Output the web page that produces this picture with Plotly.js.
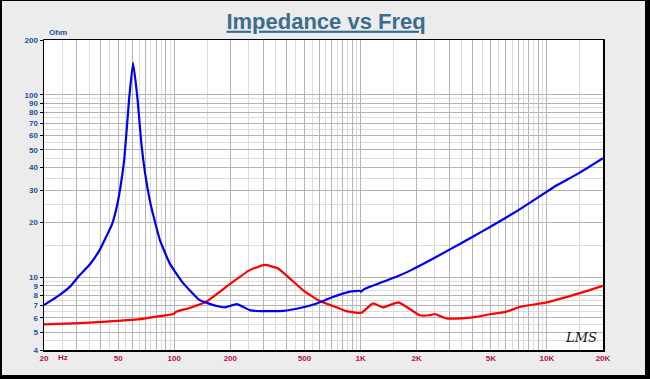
<!DOCTYPE html>
<html>
<head>
<meta charset="utf-8">
<script src="https://cdn.plot.ly/plotly-3.0.1.min.js"></script>
<style>
html,body{margin:0;padding:0;background:#000;}
#wrap{width:650px;height:379px;box-sizing:border-box;border-style:solid;border-color:#000;border-width:1px 5px 4px 2px;background:#ececec;}
</style>
</head>
<body>
<div id="wrap"><div id="plot"></div></div>
<script>
// ---- data ----
const blueFreq = [20, 22, 24.4, 27.6, 31.1, 35.3, 39.9, 43, 46.4, 49, 51.5, 54, 57.2, 60.1, 63.6, 66.5, 69.8, 74.2, 78, 83.8, 94.7, 111.7, 137, 169, 187, 217, 254, 289, 384, 474, 582, 716, 877, 988, 1010, 1040, 1567, 1869, 2500, 3000, 4000, 5000, 7000, 10000, 11000, 15000, 20000];
const blueOhm  = [7.05, 7.5, 8.05, 8.9, 10.3, 11.8, 14.2, 16.6, 19.6, 24, 31.5, 45, 94, 150, 94, 55, 37, 26, 21, 16, 11.9, 9.3, 7.5, 6.97, 6.85, 7.14, 6.62, 6.53, 6.56, 6.8, 7.2, 7.83, 8.35, 8.45, 8.35, 8.6, 10.1, 10.96, 12.8, 14.2, 16.7, 19, 23.3, 29.5, 31.5, 37.5, 45];

const redFreq = [20, 28.6, 43.3, 65.3, 80.4, 99, 103, 121, 149, 169, 207, 254, 306, 361, 418, 492, 604, 716, 838, 1010, 1166, 1319, 1598, 2079, 2347, 2499, 2880, 3462, 4160, 5000, 6010, 7220, 10000, 15000, 20000];
const redOhm  = [5.53, 5.6, 5.72, 5.9, 6.1, 6.3, 6.5, 6.8, 7.37, 8.1, 9.47, 10.96, 11.7, 11.2, 9.85, 8.5, 7.42, 6.95, 6.53, 6.4, 7.2, 6.85, 7.3, 6.2, 6.2, 6.3, 5.96, 5.96, 6.07, 6.3, 6.47, 6.9, 7.3, 8.2, 9.0];

// ---- axis ticks ----
const xLabelVals = [20, 50, 100, 200, 500, 1000, 2000, 5000, 10000, 20000];
const xLabelText = ['20', '50', '100', '200', '500', '1K', '2K', '5K', '10K', '20K'];
const yLabelVals = [4, 5, 6, 7, 8, 9, 10, 20, 30, 40, 50, 60, 70, 80, 90, 100, 200];
const yLabelText = ['4', '5', '6', '7', '8', '9', '10', '20', '30', '40', '50', '60', '70', '80', '90', '100', '200'];

// grid positions: integer steps (major grid) and half steps (minor grid)
const xGrid = [], xText = [], xHalf = [];
for (const dec of [10, 100, 1000, 10000]) {
  for (let m = 1; m <= 9; m++) {
    const v = m * dec;
    if (v < 20 || v > 20000) continue;
    xGrid.push(v);
    const i = xLabelVals.indexOf(v);
    xText.push(i >= 0 ? xLabelText[i] : '');
    if (v + dec / 2 < 20000) xHalf.push(v + dec / 2);
  }
}
const yHalf = [4.5, 5.5, 6.5, 7.5, 8.5, 9.5, 15, 25, 35, 45, 55, 65, 75, 85, 95];

const font = '"Liberation Sans", Arial, sans-serif';

const traces = [
  {x: redFreq, y: redOhm, type: 'scatter', mode: 'lines', line: {color: '#ff0000', width: 2.2, shape: 'spline', smoothing: 0.4}, hoverinfo: 'skip'},
  {x: blueFreq, y: blueOhm, type: 'scatter', mode: 'lines', line: {color: '#0000f0', width: 2.2, shape: 'spline', smoothing: 0.4}, hoverinfo: 'skip'}
];

const layout = {
  width: 643, height: 374,
  margin: {l: 42, r: 42, t: 39, b: 25},
  paper_bgcolor: '#ececec',
  plot_bgcolor: '#ffffff',
  showlegend: false,
  title: {
    text: '<u>Impedance vs Freq</u>',
    font: {family: font, size: 22, color: '#3a6e8e', weight: 'bold'},
    x: 0.504, xref: 'container', xanchor: 'center',
    y: 1 - 20 / 374, yref: 'container', yanchor: 'middle'
  },
  xaxis: {
    type: 'log',
    range: [Math.log10(20), Math.log10(20000)],
    tickmode: 'array', tickvals: xGrid, ticktext: xText,
    ticks: '', ticklabelstandoff: 0,
    tickfont: {family: font, size: 8, color: '#b0104a', weight: 'bold'},
    showgrid: true, gridcolor: '#b4b4b4', gridwidth: 1,
    minor: {tickmode: 'array', tickvals: xHalf, showgrid: true, gridcolor: '#dcdcdc', gridwidth: 1, ticks: ''},
    showline: true, mirror: true, linecolor: '#000', linewidth: 1.5,
    zeroline: false, fixedrange: true
  },
  yaxis: {
    type: 'log',
    range: [Math.log10(4), Math.log10(200)],
    tickmode: 'array', tickvals: yLabelVals, ticktext: yLabelText,
    ticks: 'outside', ticklen: 3, tickcolor: '#000', ticklabelstandoff: 0,
    tickfont: {family: font, size: 8, color: '#2050a0', weight: 'bold'},
    showgrid: true, gridcolor: '#b4b4b4', gridwidth: 1,
    minor: {tickmode: 'array', tickvals: yHalf, showgrid: true, gridcolor: '#dcdcdc', gridwidth: 1, ticks: ''},
    showline: true, mirror: true, linecolor: '#000', linewidth: 1.5,
    zeroline: false, fixedrange: true
  },
  annotations: [
    {text: 'Ohm', xref: 'paper', yref: 'paper', x: 0.006, y: 1.003, xanchor: 'left', yanchor: 'bottom', showarrow: false,
     font: {family: font, size: 8, color: '#2050a0', weight: 'bold'}},
    {text: 'Hz', xref: 'paper', yref: 'paper', x: 0.022, y: -0.003, xanchor: 'left', yanchor: 'top', showarrow: false,
     font: {family: font, size: 8, color: '#b0104a', weight: 'bold'}},
    {text: 'LMS', xref: 'paper', yref: 'paper', x: 0.96, y: 0.04, xanchor: 'center', yanchor: 'middle', showarrow: false,
     font: {family: '"DejaVu Serif", serif', size: 13, color: '#111', style: 'italic'}}
  ]
};

Plotly.newPlot('plot', traces, layout, {displayModeBar: false, staticPlot: true});
</script>
</body>
</html>
